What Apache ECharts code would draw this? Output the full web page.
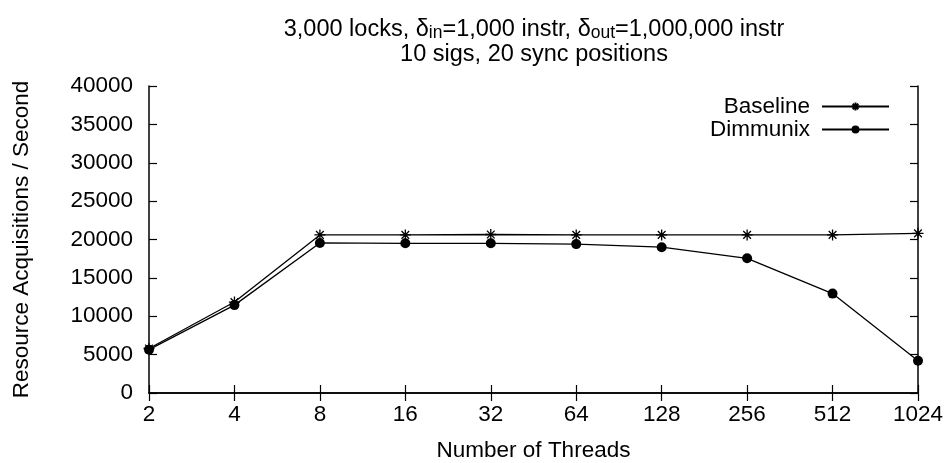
<!DOCTYPE html>
<html>
<head>
<meta charset="utf-8">
<script src="https://cdn.jsdelivr.net/npm/echarts@6/dist/echarts.min.js"></script>
<style>
  html, body { margin: 0; padding: 0; background: #fff; }
  #chart { width: 951px; height: 463px; }
</style>
</head>
<body>
<div id="chart"></div>
<script>
// Thread counts on the x axis (log-2 spaced, drawn as evenly spaced categories)
const threads = ['2', '4', '8', '16', '32', '64', '128', '256', '512', '1024'];
// Resource acquisitions per second
const baseline = [5800, 11850, 20600, 20600, 20650, 20600, 20600, 20600, 20600, 20800];
const dimmunix = [5650, 11450, 19550, 19500, 19500, 19400, 19000, 17550, 12950, 4200];
const yTicks = { min: 0, max: 40000, interval: 5000 };

const FONT = 'Liberation Sans, Arial, Helvetica, sans-serif';
const FS = 22.5;
const INK = '#000';

// gnuplot-style asterisk: "+" overlaid with "x"
const starPath = 'path://M-10,0L10,0M0,-10L0,10M-7,-7L7,7M-7,7L7,-7';

const chart = echarts.init(document.getElementById('chart'), null, { renderer: 'canvas' });

const mirrorAxis = {
  axisLine: { show: true, lineStyle: { color: INK, width: 1.5 } },
  axisTick: { show: true, inside: true, length: 8, lineStyle: { color: INK, width: 1.2 } },
  axisLabel: { show: false },
  splitLine: { show: false }
};

chart.setOption({
  animation: false,
  backgroundColor: '#fff',
  textStyle: { fontFamily: FONT, color: INK },
  title: {
    text: '3,000 locks, δ{sub|in}=1,000 instr, δ{sub|out}=1,000,000 instr\n10 sigs, 20 sync positions',
    left: 529,
    top: 12,
    textAlign: 'center',
    textStyle: {
      fontFamily: FONT,
      fontWeight: 'normal',
      fontSize: 23.5,
      color: INK,
      lineHeight: 25,
      rich: {
        sub: { fontSize: 17.5, fontFamily: FONT, color: INK, verticalAlign: 'bottom', padding: [9, 0, 0, 0] }
      }
    }
  },
  legend: {
    orient: 'vertical',
    right: 56,
    top: 90,
    align: 'right',
    itemWidth: 67,
    itemHeight: 10,
    itemGap: 0,
    textStyle: { fontFamily: FONT, fontSize: FS, color: INK, padding: [0, 7, 0, 0] },
    data: ['Baseline', 'Dimmunix']
  },
  grid: { left: 149, right: 33, top: 86, bottom: 70, outerBoundsMode: 'none', containLabel: false },
  xAxis: [
    {
      type: 'category',
      data: threads,
      boundaryGap: false,
      position: 'bottom',
      name: 'Number of Threads',
      nameLocation: 'middle',
      nameGap: 46,
      nameTextStyle: { fontFamily: FONT, fontSize: FS, color: INK },
      axisLine: { show: true, lineStyle: { color: INK, width: 1.5 } },
      axisTick: { show: true, inside: true, length: 8, alignWithLabel: true, lineStyle: { color: INK, width: 1.2 } },
      axisLabel: { fontFamily: FONT, fontSize: FS, color: INK, margin: 10, interval: 0 },
      splitLine: { show: false }
    },
    Object.assign({ type: 'category', data: threads, boundaryGap: false, position: 'top' }, mirrorAxis)
  ],
  yAxis: [
    {
      type: 'value',
      min: yTicks.min,
      max: yTicks.max,
      interval: yTicks.interval,
      position: 'left',
      name: 'Resource Acquisitions / Second',
      nameLocation: 'middle',
      nameGap: 116,
      nameTextStyle: { fontFamily: FONT, fontSize: FS, color: INK },
      axisLine: { show: true, lineStyle: { color: INK, width: 1.5 } },
      axisTick: { show: true, inside: true, length: 8, lineStyle: { color: INK, width: 1.2 } },
      axisLabel: { fontFamily: FONT, fontSize: FS, color: INK, margin: 16, formatter: (v) => String(v) },
      splitLine: { show: false }
    },
    Object.assign({ type: 'value', min: yTicks.min, max: yTicks.max, interval: yTicks.interval, position: 'right' }, mirrorAxis)
  ],
  series: [
    {
      name: 'Baseline',
      type: 'line',
      data: baseline,
      symbol: starPath,
      symbolSize: 11,
      showAllSymbol: true,
      lineStyle: { color: INK, width: 1.3 },
      itemStyle: { color: 'rgba(0,0,0,0)', borderColor: INK, borderWidth: 1.3 },
      emphasis: { disabled: true }
    },
    {
      name: 'Dimmunix',
      type: 'line',
      data: dimmunix,
      symbol: 'circle',
      symbolSize: 10,
      showAllSymbol: true,
      lineStyle: { color: INK, width: 1.3 },
      itemStyle: { color: INK, borderColor: INK, borderWidth: 0 },
      emphasis: { disabled: true }
    }
  ]
});
</script>
</body>
</html>
